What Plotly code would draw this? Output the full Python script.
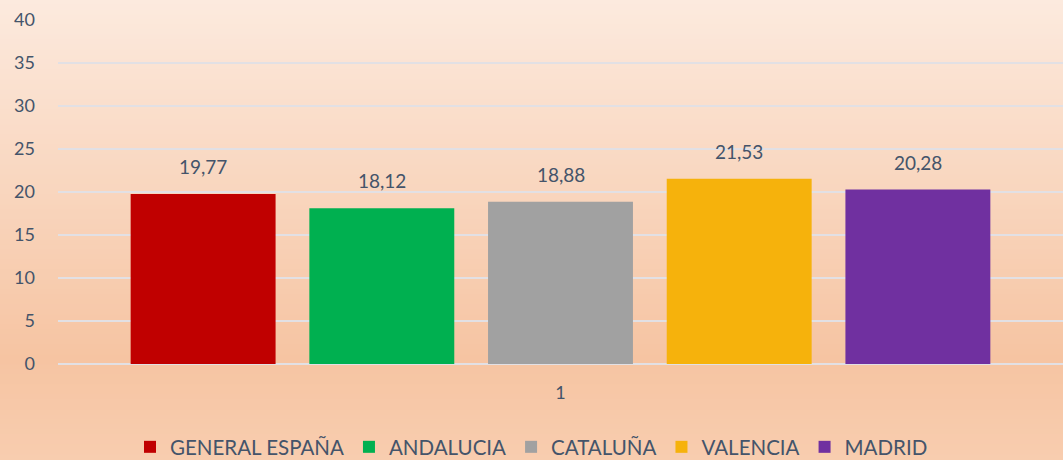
import plotly.graph_objects as go

categories = ["1"]
series_names = ["GENERAL ESPAÑA", "ANDALUCIA", "CATALUÑA", "VALENCIA", "MADRID"]
series_values = [19.77, 18.12, 18.88, 21.53, 20.28]
colors = ["#C00000", "#00B050", "#A1A1A1", "#F6B20C", "#7030A0"]
y_ticks = [0, 5, 10, 15, 20, 25, 30, 35, 40]

W, H = 1063, 460
ml, mr, mt, mb = 58, 0, 20, 96
pw, ph = W - ml - mr, H - mt - mb

fig = go.Figure()
for name, val, col in zip(series_names, series_values, colors):
    fig.add_trace(go.Bar(
        x=categories, y=[val], name=name, marker=dict(color=col, line=dict(width=0)),
    ))

# value labels above bars
annotations = []
n = len(series_names)
for i, val in enumerate(series_values):
    annotations.append(dict(
        x=categories.index("1"), y=val, xref="x", yref="y",
        text=f"{val:.2f}".replace(".", ","), showarrow=False,
        yanchor="bottom", yshift=14,
        xshift=(i - (n - 1) / 2) * 178.75,
        font=dict(size=19, color="#44546A", family="Lato, sans-serif"),
    ))

# background gradient
def lerp(c1, c2, t):
    return tuple(round(a + (b - a) * t) for a, b in zip(c1, c2))

stops = [(0.0, (252, 234, 222)), (0.78, (246, 196, 162)), (1.0, (248, 205, 175))]
def color_at(t):
    for (t0, c0), (t1, c1) in zip(stops[:-1], stops[1:]):
        if t <= t1:
            return lerp(c0, c1, (t - t0) / (t1 - t0))
    return stops[-1][1]

shapes = []
N = 92
for k in range(N):
    p0, p1 = H * k / N, H * (k + 1) / N
    c = color_at((k + 0.5) / N)
    shapes.append(dict(
        type="rect", xref="paper", yref="paper", layer="below",
        x0=-ml / pw - 0.01, x1=1 + mr / pw + 0.01,
        y0=(mt + ph - p1) / ph - 0.002, y1=(mt + ph - p0) / ph + 0.002,
        fillcolor="rgb(%d,%d,%d)" % c, line=dict(width=0),
    ))

fig.update_layout(
    width=W, height=H,
    margin=dict(l=ml, r=mr, t=mt, b=mb, autoexpand=False),
    paper_bgcolor="#F8CFB3", plot_bgcolor="rgba(0,0,0,0)",
    barmode="group", bargap=0.111, bargroupgap=0.189,
    separators=",.",
    font=dict(family="Lato, sans-serif", color="#44546A", size=18),
    shapes=shapes, annotations=annotations,
    legend=dict(
        orientation="h", x=0.5, xanchor="center", xref="container",
        y=33 / H, yanchor="top", yref="container",
        font=dict(size=20.5, color="#44546A"), bgcolor="rgba(0,0,0,0)",
        itemwidth=30, tracegroupgap=0,
    ),
    xaxis=dict(
        type="category", automargin=False, range=[-0.5, 0.5],
        showgrid=False, showline=False, zeroline=False,
        tickfont=dict(size=18), ticklabelstandoff=16,
    ),
    yaxis=dict(
        automargin=False,
        range=[0, 40], tickvals=y_ticks, showgrid=True, gridcolor="#E2E0E4",
        gridwidth=2, zeroline=True, zerolinecolor="#E2E0E4", zerolinewidth=2,
        showline=False, tickfont=dict(size=18), ticklabelstandoff=22,
    ),
)

fig.write_html(
    "out.html",
    config={"displayModeBar": False},
    post_script="document.body.style.margin='0px';document.body.style.overflow='hidden';",
)
